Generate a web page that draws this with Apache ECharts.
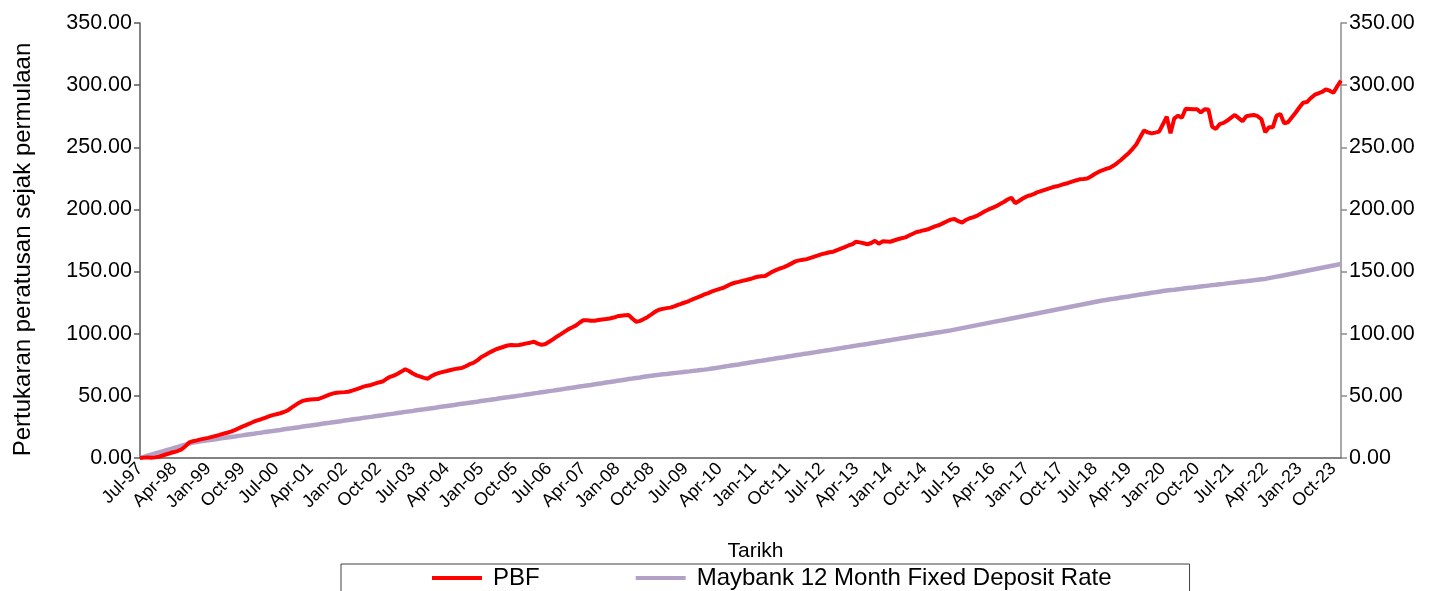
<!DOCTYPE html>
<html>
<head>
<meta charset="utf-8">
<script src="https://cdn.jsdelivr.net/npm/echarts@6/dist/echarts.min.js"></script>
<style>
html,body{margin:0;padding:0;background:#fff;}
#c{width:1431px;height:591px;}
</style>
</head>
<body>
<div id="c"></div>
<script>
// Month names for category labels (Jul-97 .. Dec-23)
const monthNames = ["Jan","Feb","Mar","Apr","May","Jun","Jul","Aug","Sep","Oct","Nov","Dec"];
const startYear = 1997, startMonth = 6, monthCount = 318;
const categories = [];
for (let k = 0; k < monthCount; k++) {
  const m = (startMonth + k) % 12;
  const y = startYear + Math.floor((startMonth + k) / 12);
  categories.push(monthNames[m] + "-" + String(y % 100).padStart(2, "0"));
}

const yTicks = [0, 50, 100, 150, 200, 250, 300, 350];

const pbf = [
0,0.3,0.5,0.2,0.5,1.0,2.0,3.0,4.0,4.8,5.8,7.0,
9.5,12.5,13.5,14.2,15.0,15.6,16.2,17.0,17.8,18.6,19.5,20.3,
21.2,22.5,23.8,25.2,26.5,27.8,29.2,30.3,31.2,32.3,33.4,34.5,
35.2,36.0,37.0,38.3,40.5,42.5,44.5,46.0,46.7,47.0,47.2,47.4,
48.5,49.8,51.0,52.0,52.5,52.8,53.0,53.3,54.2,55.2,56.3,57.4,
58.2,58.8,59.8,60.8,61.5,63.5,65.3,66.3,67.8,69.5,71.4,70.0,
68.0,66.5,65.5,64.5,63.8,66.0,67.5,68.5,69.3,70.0,70.8,71.5,
72.0,72.5,73.8,75.5,76.5,78.5,81.0,82.6,84.5,86.0,87.5,88.5,
89.5,90.5,90.9,90.8,90.9,91.5,92.2,92.8,93.5,92.0,91.0,91.7,
93.5,95.5,97.6,99.5,101.5,103.5,105.0,106.5,108.8,110.8,110.8,110.5,
110.5,111.0,111.5,111.8,112.3,113.0,114.0,114.5,114.8,115.0,112.0,109.5,
110.3,111.8,113.5,115.5,117.8,119.3,120.0,120.6,121.0,122.0,123.2,124.3,
125.3,126.5,127.8,129.0,130.3,131.6,132.7,134.0,135.0,136.0,137.0,138.5,
140.0,141.0,141.7,142.5,143.2,144.0,145.0,145.8,146.2,146.5,148.3,150.0,
151.3,152.5,153.6,155.0,156.6,158.2,159.0,159.5,160.0,161.0,162.0,163.0,
164.0,164.7,165.5,166.0,167.3,168.5,169.7,171.0,172.0,174.0,173.5,172.8,
172.0,173.0,174.8,172.4,174.3,174.2,174.0,175.0,176.0,176.8,177.5,179.0,
180.4,181.8,182.5,183.3,184.0,185.3,186.6,187.5,189.0,190.5,191.8,192.3,
190.5,189.3,191.5,192.9,193.8,195.0,196.8,198.5,200.0,201.3,202.6,204.3,
206.0,208.0,209.4,205.0,206.8,208.8,210.5,211.4,212.5,214.0,215.0,216.0,
217.0,218.0,218.6,219.5,220.5,221.3,222.3,223.3,224.2,224.4,224.8,226.5,
228.5,230.2,231.5,232.6,233.5,235.3,237.5,240.0,242.8,245.5,248.8,252.5,
258.0,263.5,262.0,261.2,261.8,262.6,268.5,274.6,261.2,273.3,275.4,273.8,
281.0,280.8,280.6,280.6,278.0,280.6,280.5,266.5,264.8,268.7,269.6,271.5,
273.8,276.0,273.5,271.0,275.0,275.5,276.0,275.0,272.5,262.1,266.1,266.1,
275.5,276.8,269.3,270.1,274.0,277.8,282.0,285.9,286.4,289.5,292.1,293.4,
294.5,296.6,295.5,293.9,299.0,303.6
];

const maybankFD = [
0,0.9,1.8,2.7,3.6,4.5,5.4,6.3,7.2,8.1,9.0,9.9,
10.8,11.7,12.5,12.9,13.4,13.8,14.3,14.7,15.1,15.6,16.0,16.5,
16.9,17.3,17.8,18.2,18.7,19.1,19.5,20.0,20.4,20.9,21.3,21.7,
22.2,22.6,23.1,23.5,23.9,24.4,24.8,25.3,25.7,26.1,26.6,27.0,
27.5,27.9,28.3,28.8,29.2,29.6,30.1,30.5,31.0,31.4,31.8,32.3,
32.7,33.1,33.6,34.0,34.4,34.9,35.3,35.7,36.2,36.6,37.1,37.5,
37.9,38.4,38.8,39.2,39.7,40.1,40.5,41.0,41.4,41.8,42.3,42.7,
43.2,43.6,44.0,44.5,44.9,45.3,45.8,46.2,46.6,47.1,47.5,48.0,
48.4,48.8,49.3,49.7,50.2,50.6,51.1,51.5,52.0,52.4,52.9,53.3,
53.8,54.2,54.7,55.1,55.6,56.1,56.5,57.0,57.5,57.9,58.4,58.8,
59.3,59.8,60.2,60.7,61.1,61.6,62.1,62.5,63.0,63.5,63.9,64.4,
64.8,65.3,65.8,66.2,66.6,66.9,67.3,67.6,68.0,68.3,68.7,69.0,
69.4,69.7,70.1,70.4,70.8,71.1,71.5,72.0,72.4,72.9,73.4,73.9,
74.4,74.9,75.3,75.8,76.3,76.8,77.3,77.8,78.2,78.7,79.2,79.7,
80.2,80.7,81.1,81.6,82.1,82.6,83.1,83.6,84.0,84.5,85.0,85.5,
86.0,86.5,86.9,87.4,87.9,88.4,88.9,89.4,89.9,90.4,90.9,91.3,
91.8,92.3,92.8,93.3,93.8,94.3,94.8,95.3,95.8,96.3,96.8,97.3,
97.8,98.3,98.8,99.2,99.7,100.2,100.7,101.2,101.7,102.2,102.7,103.3,
103.9,104.5,105.1,105.7,106.3,106.9,107.5,108.1,108.7,109.3,109.9,110.5,
111.1,111.7,112.3,112.9,113.5,114.1,114.7,115.3,115.9,116.5,117.1,117.7,
118.3,118.9,119.5,120.1,120.7,121.3,121.9,122.5,123.1,123.7,124.3,124.9,
125.5,126.1,126.7,127.2,127.7,128.1,128.6,129.1,129.6,130.0,130.5,131.0,
131.5,131.9,132.4,132.9,133.3,133.8,134.3,134.7,135.1,135.4,135.8,136.1,
136.5,136.9,137.2,137.6,138.0,138.3,138.7,139.1,139.4,139.8,140.1,140.5,
140.9,141.2,141.6,142.0,142.3,142.7,143.0,143.4,143.8,144.1,144.7,145.3,
145.9,146.5,147.1,147.7,148.3,148.9,149.5,150.1,150.7,151.3,151.9,152.5,
153.1,153.7,154.3,154.9,155.5,156.1
];

const FONT = "'Liberation Sans', Arial, sans-serif";
const chart = echarts.init(document.getElementById('c'), null, {renderer: 'canvas'});

function yAxisCfg(pos, lineColor) {
  return {
    type: 'value',
    position: pos,
    min: yTicks[0],
    max: yTicks[yTicks.length - 1],
    interval: 50,
    splitLine: {show: false},
    axisLine: {show: true, lineStyle: {color: lineColor, width: 1.5}},
    axisTick: {show: true, length: 6, lineStyle: {color: lineColor, width: 1.5}},
    axisLabel: {
      color: '#000', fontSize: 21.5, fontFamily: FONT, margin: 8,
      formatter: v => v.toFixed(2)
    }
  };
}

const leftY = yAxisCfg('left', '#5a5a5a');
leftY.name = 'Pertukaran peratusan sejak permulaan';
leftY.nameLocation = 'middle';
leftY.nameGap = 105;
leftY.nameTextStyle = {color: '#000', fontSize: 24, fontFamily: FONT, padding: [0, 18, 0, 0]};
const rightY = yAxisCfg('right', '#8c8c8c');

chart.setOption({
  animation: false,
  backgroundColor: '#fff',
  textStyle: {fontFamily: FONT},
  grid: {left: 140, right: 90, top: 23, bottom: 133, containLabel: false},
  xAxis: {
    type: 'category',
    data: categories,
    boundaryGap: false,
    name: 'Tarikh',
    nameLocation: 'middle',
    nameGap: 83,
    nameTextStyle: {color: '#000', fontSize: 21, fontFamily: FONT, padding: [0, 0, 0, 30]},
    axisLine: {show: true, lineStyle: {color: '#5a5a5a', width: 1.5}},
    axisTick: {show: false},
    axisLabel: {
      interval: 8, rotate: 45, color: '#000', fontSize: 18, fontFamily: FONT, margin: 8
    },
    splitLine: {show: false}
  },
  yAxis: [leftY, rightY],
  legend: {
    left: 341,
    top: 564,
    padding: [2, 78, 8, 91],
    borderColor: '#404040',
    borderWidth: 1,
    itemGap: 96,
    itemWidth: 50,
    itemHeight: 4,
    icon: 'rect',
    textStyle: {color: '#000', fontSize: 24, fontFamily: FONT, padding: [0, 0, 0, 6]},
    data: ['PBF', 'Maybank 12 Month Fixed Deposit Rate']
  },
  series: [
    {
      name: 'Maybank 12 Month Fixed Deposit Rate',
      type: 'line',
      data: maybankFD,
      yAxisIndex: 0,
      symbol: 'none',
      lineStyle: {color: '#B3A2C7', width: 4.5},
      itemStyle: {color: '#B3A2C7'},
      z: 2
    },
    {
      name: 'PBF',
      type: 'line',
      data: pbf,
      yAxisIndex: 0,
      symbol: 'none',
      lineStyle: {color: '#FF0000', width: 4},
      itemStyle: {color: '#FF0000'},
      z: 3
    }
  ]
});
</script>
</body>
</html>
